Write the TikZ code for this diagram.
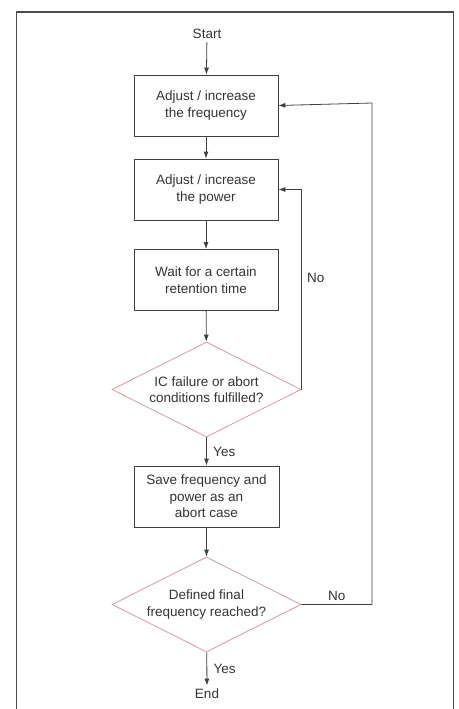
\documentclass[tikz,border=0pt]{standalone}
\usepackage{fontspec}
\setmainfont{Liberation Sans}
\usetikzlibrary{shapes.geometric,arrows.meta}
\definecolor{linegray}{HTML}{404040}
\definecolor{rosa}{HTML}{D99AA3}
\begin{document}
\begin{tikzpicture}[x=1pt,y=-1pt,>={Latex[length=7pt,width=5pt]},
  every node/.style={font=\fontsize{13.5}{16.5}\selectfont,text=black!80},
  box/.style={shape=rectangle,draw=linegray,line width=0.8pt,minimum width=144pt,minimum height=61pt,align=center,inner sep=0pt},
  ask/.style={shape=diamond,aspect=2,draw=rosa,line width=0.8pt,minimum width=189pt,minimum height=95pt,align=center,inner sep=0pt},
  flow/.style={->,draw=linegray,line width=0.8pt}]
\useasboundingbox (0,0) rectangle (458,709);
\draw[line width=1.5pt,draw=black!70] (16.5,720) -- (16.5,12) -- (453.5,12) -- (453.5,720);
\node (start) at (207,34) {Start};
\node (b1) at (206,105.5) [box] {Adjust / increase\\the frequency};
\node (b2) at (206,189.5) [box] {Adjust / increase\\the power};
\node (b3) at (206,280) [box] {Wait for a certain\\retention time};
\node (d1) at (206.5,389.5) [ask] {IC failure or abort\\conditions fulfilled?};
\node (b4) at (206.5,496.5) [box,minimum width=145pt] {Save frequency and\\power as an\\abort case};
\node (d2) at (206.5,604.5) [ask] {Defined final\\frequency reached?};
\node (end) at (207,694) {End};
\coordinate (rim) at (372,103);
\draw[flow] (start) -- (b1);
\draw[flow] (b1) -- (b2);
\draw[flow] (b2) -- (b3);
\draw[flow] (b3) -- (d1);
\draw[flow] (d1) -- node[right,xshift=3pt] {Yes} (b4);
\draw[flow] (b4) -- (d2);
\draw[flow] (d2) -- node[right,xshift=3pt] {Yes} (end);
\draw[flow] (d1.east) |- node[pos=0.28,right,xshift=2pt] {No} (b2.east);
\draw[flow] (d2.east) -- node[above] {No} (d2.east -| rim) -- (rim) -- (b1.east);
\end{tikzpicture}
\end{document}
